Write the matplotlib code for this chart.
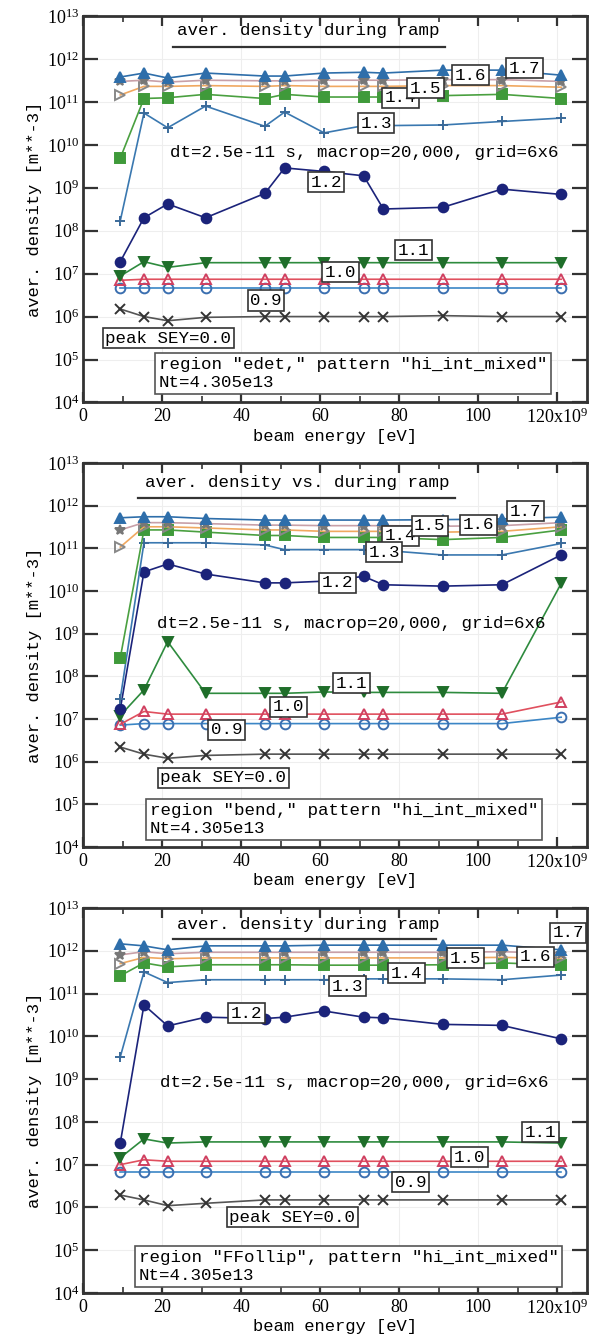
import numpy as np
import matplotlib
matplotlib.use("Agg")
import matplotlib.pyplot as plt
from matplotlib.ticker import FixedLocator, FuncFormatter, NullLocator

plt.rcParams["font.family"] = ["Liberation Serif", "DejaVu Serif"]
plt.rcParams["mathtext.fontset"] = "custom"
plt.rcParams["mathtext.rm"] = "Liberation Serif"
plt.rcParams["mathtext.it"] = "Liberation Serif"

MONO = "Liberation Mono"

# beam energy (units of 1e9 eV)
energy = [9.4, 15.4, 21.4, 31, 46, 51, 61, 71, 76, 91, 106, 121]

sey = ["0.0", "0.9", "1.0", "1.1", "1.2", "1.3", "1.4", "1.5", "1.6", "1.7"]

# ---------------- panel 1: region "edet,"
edet_00 = [1.5e6, 1.0e6, 8.0e5, 9.6e5, 1.0e6, 1.0e6, 1.0e6, 1.0e6, 1.0e6, 1.05e6, 1.0e6, 1.0e6]
edet_09 = [4.6e6, 4.6e6, 4.6e6, 4.6e6, 4.6e6, 4.6e6, 4.6e6, 4.6e6, 4.6e6, 4.6e6, 4.6e6, 4.6e6]
edet_10 = [7.0e6, 7.4e6, 7.4e6, 7.4e6, 7.4e6, 7.4e6, 7.4e6, 7.4e6, 7.4e6, 7.4e6, 7.4e6, 7.4e6]
edet_11 = [8.8e6, 1.9e7, 1.4e7, 1.8e7, 1.8e7, 1.8e7, 1.8e7, 1.8e7, 1.8e7, 1.8e7, 1.8e7, 1.8e7]
edet_12 = [1.9e7, 2.0e8, 4.2e8, 2.0e8, 7.4e8, 2.9e9, 2.4e9, 1.9e9, 3.2e8, 3.5e8, 9.3e8, 7.0e8]
edet_13 = [1.7e8, 5.5e10, 2.5e10, 8.0e10, 2.7e10, 5.8e10, 1.9e10, 2.8e10, 2.8e10, 2.9e10, 3.5e10, 4.2e10]
edet_14 = [4.9e9, 1.2e11, 1.25e11, 1.5e11, 1.2e11, 1.5e11, 1.3e11, 1.3e11, 1.3e11, 1.4e11, 1.5e11, 1.2e11]
edet_15 = [1.45e11, 2.3e11, 2.3e11, 2.4e11, 2.3e11, 2.4e11, 2.3e11, 2.3e11, 2.3e11, 2.4e11, 2.4e11, 2.2e11]
edet_16 = [3.0e11, 3.2e11, 2.9e11, 3.2e11, 3.1e11, 3.1e11, 3.2e11, 3.2e11, 3.2e11, 3.3e11, 3.3e11, 3.0e11]
edet_17 = [3.8e11, 4.7e11, 3.6e11, 4.7e11, 4.0e11, 4.0e11, 4.7e11, 4.9e11, 4.7e11, 5.5e11, 5.5e11, 4.2e11]

# ---------------- panel 2: region "bend,"
bend_00 = [2.2e6, 1.5e6, 1.2e6, 1.4e6, 1.5e6, 1.5e6, 1.5e6, 1.5e6, 1.5e6, 1.5e6, 1.5e6, 1.5e6]
bend_09 = [7.2e6, 7.8e6, 7.8e6, 7.8e6, 7.8e6, 7.8e6, 7.8e6, 7.8e6, 7.8e6, 7.8e6, 7.8e6, 1.1e7]
bend_10 = [7.5e6, 1.5e7, 1.3e7, 1.3e7, 1.3e7, 1.3e7, 1.3e7, 1.3e7, 1.3e7, 1.3e7, 1.3e7, 2.5e7]
bend_11 = [1.2e7, 4.8e7, 6.5e8, 4.0e7, 4.0e7, 4.0e7, 4.3e7, 4.2e7, 4.2e7, 4.2e7, 4.0e7, 1.5e10]
bend_12 = [1.7e7, 2.8e10, 4.3e10, 2.5e10, 1.55e10, 1.55e10, 1.7e10, 2.2e10, 1.4e10, 1.3e10, 1.4e10, 7.0e10]
bend_13 = [3.0e7, 1.35e11, 1.35e11, 1.35e11, 1.2e11, 9.3e10, 9.3e10, 9.3e10, 9.0e10, 7.0e10, 7.0e10, 1.3e11]
bend_14 = [2.7e8, 2.7e11, 2.7e11, 2.4e11, 2.0e11, 2.0e11, 1.8e11, 1.8e11, 1.8e11, 1.6e11, 1.8e11, 2.7e11]
bend_15 = [1.07e11, 3.2e11, 3.2e11, 3.0e11, 2.7e11, 2.7e11, 2.5e11, 2.5e11, 2.5e11, 2.4e11, 2.5e11, 3.2e11]
bend_16 = [2.7e11, 4.0e11, 4.0e11, 3.8e11, 3.5e11, 3.5e11, 3.4e11, 3.4e11, 3.4e11, 3.3e11, 3.4e11, 4.0e11]
bend_17 = [5.2e11, 5.5e11, 5.5e11, 5.0e11, 4.6e11, 4.6e11, 4.6e11, 4.6e11, 4.6e11, 4.7e11, 4.9e11, 5.4e11]

# ---------------- panel 3: region "FFollip"
ffol_00 = [1.95e6, 1.5e6, 1.1e6, 1.25e6, 1.5e6, 1.5e6, 1.5e6, 1.5e6, 1.5e6, 1.5e6, 1.5e6, 1.5e6]
ffol_09 = [6.8e6, 6.8e6, 6.8e6, 6.8e6, 6.8e6, 6.8e6, 6.8e6, 6.8e6, 6.8e6, 6.8e6, 6.8e6, 6.8e6]
ffol_10 = [1.0e7, 1.3e7, 1.2e7, 1.2e7, 1.2e7, 1.2e7, 1.2e7, 1.2e7, 1.2e7, 1.2e7, 1.2e7, 1.2e7]
ffol_11 = [1.45e7, 4.0e7, 3.2e7, 3.4e7, 3.4e7, 3.4e7, 3.4e7, 3.4e7, 3.4e7, 3.4e7, 3.4e7, 3.2e7]
ffol_12 = [3.2e7, 5.4e10, 1.75e10, 2.8e10, 2.6e10, 2.8e10, 3.9e10, 2.8e10, 2.7e10, 1.9e10, 1.8e10, 8.7e9]
ffol_13 = [3.3e9, 3.2e11, 1.8e11, 2.1e11, 2.1e11, 2.1e11, 2.1e11, 2.2e11, 2.2e11, 2.2e11, 2.1e11, 2.7e11]
ffol_14 = [2.6e11, 5.2e11, 4.2e11, 4.7e11, 4.7e11, 4.7e11, 4.6e11, 4.6e11, 4.6e11, 4.7e11, 5.2e11, 4.6e11]
ffol_15 = [5.0e11, 7.0e11, 6.5e11, 6.8e11, 6.8e11, 6.8e11, 6.8e11, 6.8e11, 6.8e11, 6.8e11, 7.0e11, 6.6e11]
ffol_16 = [8.0e11, 9.5e11, 8.5e11, 9.2e11, 9.2e11, 9.2e11, 9.2e11, 9.2e11, 9.2e11, 9.2e11, 9.5e11, 8.6e11]
ffol_17 = [1.45e12, 1.3e12, 1.05e12, 1.3e12, 1.3e12, 1.3e12, 1.35e12, 1.35e12, 1.35e12, 1.35e12, 1.35e12, 1.05e12]

regions = ["edet,", "bend,", "FFollip"]
titles = ["aver. density during ramp", "aver. density vs. during ramp", "aver. density during ramp"]
panel_data = [
    [edet_00, edet_09, edet_10, edet_11, edet_12, edet_13, edet_14, edet_15, edet_16, edet_17],
    [bend_00, bend_09, bend_10, bend_11, bend_12, bend_13, bend_14, bend_15, bend_16, bend_17],
    [ffol_00, ffol_09, ffol_10, ffol_11, ffol_12, ffol_13, ffol_14, ffol_15, ffol_16, ffol_17],
]

# marker / colour per SEY curve  (line colour, marker, face, edge)
styles = [
    ("#555555", "x", "none", "#333333"),
    ("#3b86c6", "o", "none", "#3b6fb0"),
    ("#e0505e", "^", "none", "#d04060"),
    ("#2e8b3e", "v", "#1f6e2a", "#1f6e2a"),
    ("#1b237a", "o", "#1b237a", "#1b237a"),
    ("#3a78b0", "+", "none", "#3a6a9a"),
    ("#4aa040", "s", "#3f9a3a", "#3f9a3a"),
    ("#f0a860", ">", "none", "#888888"),
    ("#c8a0a8", "*", "#777777", "#777777"),
    ("#2e6eaa", "^", "#2e6eaa", "#2e6eaa"),
]

# label boxes: (text, x_frac, y_frac) per panel
labels = [
    [("1.7", 0.875, 0.865), ("1.6", 0.768, 0.847), ("1.4", 0.629, 0.788), ("1.5", 0.679, 0.813),
     ("1.3", 0.581, 0.723), ("1.2", 0.482, 0.570), ("1.1", 0.655, 0.394), ("1.0", 0.510, 0.337),
     ("0.9", 0.363, 0.264), ("peak SEY=0.0", 0.169, 0.166)],
    [("1.7", 0.877, 0.875), ("1.6", 0.784, 0.839), ("1.4", 0.629, 0.810), ("1.5", 0.688, 0.836),
     ("1.3", 0.597, 0.768), ("1.2", 0.504, 0.688), ("1.1", 0.532, 0.427), ("1.0", 0.407, 0.365),
     ("0.9", 0.284, 0.305), ("peak SEY=0.0", 0.278, 0.180)],
    [("1.7", 0.962, 0.935), ("1.6", 0.898, 0.873), ("1.5", 0.758, 0.870), ("1.4", 0.641, 0.831),
     ("1.3", 0.524, 0.797), ("1.2", 0.324, 0.727), ("1.1", 0.907, 0.418), ("1.0", 0.766, 0.353),
     ("0.9", 0.649, 0.288), ("peak SEY=0.0", 0.415, 0.197)],
]
title_pos = [(0.446, 0.962, 0.179, 0.718, 0.920),
             (0.425, 0.948, 0.109, 0.738, 0.909),
             (0.446, 0.956, 0.179, 0.700, 0.919)]
dt_pos = [(0.173, 0.648), (0.147, 0.583), (0.153, 0.548)]
region_pos = [(0.150, 0.118), (0.132, 0.115), (0.110, 0.113)]

fig = plt.figure(figsize=(5.98, 13.37), dpi=100)
boxes = [(0.699, 0.988), (0.3665, 0.6537), (0.0329, 0.3209)]


def ylab(v, p):
    return r"$\mathdefault{10^{%d}}$" % int(round(np.log10(v)))


def xlab(v, p):
    if abs(v - 120) < 1e-6:
        return r"120x10$^{9}$"
    return "%d" % v


for i, (b0, b1) in enumerate(boxes):
    ax = fig.add_axes([0.139, b0, 0.843, b1 - b0])
    ax.set_yscale("log")
    ax.set_ylim(1e4, 1e13)
    ax.set_xlim(0, 127.6)

    for s, y in enumerate(panel_data[i]):
        lc, mk, fc, ec = styles[s]
        ax.plot(energy, y, color=lc, lw=1.2, marker=mk, ms=7 if mk != "x" else 6.5,
                mfc=fc, mec=ec, mew=1.4, zorder=3 + s * 0.1)

    ax.yaxis.set_major_locator(FixedLocator([10.0 ** k for k in range(4, 14)]))
    ax.yaxis.set_minor_locator(NullLocator())
    ax.yaxis.set_major_formatter(FuncFormatter(ylab))
    ax.xaxis.set_major_locator(FixedLocator([0, 20, 40, 60, 80, 100, 120]))
    ax.xaxis.set_minor_locator(FixedLocator([10, 30, 50, 70, 90, 110]))
    ax.xaxis.set_major_formatter(FuncFormatter(xlab))
    ax.tick_params(axis="y", which="major", direction="in", length=11, width=1.6,
                   left=True, right=True, labelsize=13, pad=3, color="#333333")
    ax.tick_params(axis="x", which="major", direction="in", length=7, width=1.6,
                   top=True, bottom=True, labelsize=13, pad=4, color="#333333")
    ax.tick_params(axis="x", which="minor", direction="in", length=4, width=1.2,
                   top=True, bottom=True, color="#333333")
    for sp in ax.spines.values():
        sp.set_linewidth(2.0)
        sp.set_color("#333333")
    ax.grid(True, which="major", color="#eeeeee", lw=0.8, zorder=0)
    ax.set_axisbelow(True)

    ax.set_xlabel("beam energy [eV]", fontfamily=MONO, fontsize=12.3, labelpad=1)
    ax.set_ylabel("aver. density [m**-3]", fontfamily=MONO, fontsize=12.3, labelpad=3)

    tx, ty, ux0, ux1, uy = title_pos[i]
    ax.text(tx, ty, titles[i], transform=ax.transAxes, ha="center", va="center",
            fontfamily=MONO, fontsize=12.6, zorder=6)
    ax.plot([ux0, ux1], [uy, uy], transform=ax.transAxes, color="#333333", lw=1.6, zorder=6)

    dx, dy = dt_pos[i]
    ax.text(dx, dy, "dt=2.5e-11 s, macrop=20,000, grid=6x6", transform=ax.transAxes,
            ha="left", va="center", fontfamily=MONO, fontsize=12.6, zorder=6)

    for txt, fx, fy in labels[i]:
        ax.text(fx, fy, txt, transform=ax.transAxes, ha="center", va="center",
                fontfamily=MONO, fontsize=12.6, zorder=8,
                bbox=dict(boxstyle="square,pad=0.15", fc="white", ec="#333333", lw=1.2))

    rx, ry = region_pos[i]
    ax.text(rx, ry, 'region "%s" pattern "hi_int_mixed"\nNt=4.305e13' % regions[i]
            if i < 2 else 'region "%s", pattern "hi_int_mixed"\nNt=4.305e13' % regions[i],
            transform=ax.transAxes, ha="left", va="top", fontfamily=MONO, fontsize=12.6,
            linespacing=1.3, zorder=8,
            bbox=dict(boxstyle="square,pad=0.2", fc="white", ec="#555555", lw=1.2))

fig.savefig("out.png", dpi=100)
